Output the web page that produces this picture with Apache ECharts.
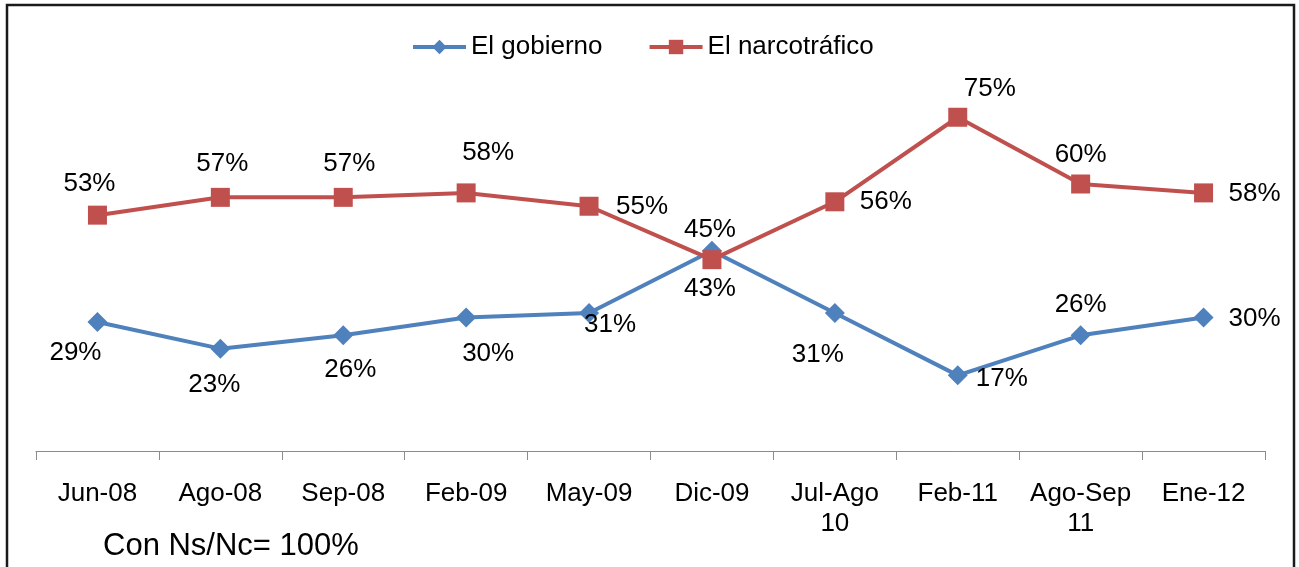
<!DOCTYPE html>
<html>
<head>
<meta charset="utf-8">
<script src="https://cdn.jsdelivr.net/npm/echarts@6/dist/echarts.min.js"></script>
<style>
    html, body { margin: 0; padding: 0; background: #fff; }
    #chart { width: 1299px; height: 567px; }
</style>
</head>
<body>
<div id="chart"></div>
<script>
const categories = ['Jun-08', 'Ago-08', 'Sep-08', 'Feb-09', 'May-09', 'Dic-09', 'Jul-Ago\n10', 'Feb-11', 'Ago-Sep\n11', 'Ene-12'];
const gobierno = [29, 23, 26, 30, 31, 45, 31, 17, 26, 30];
const narcotrafico = [53, 57, 57, 58, 55, 43, 56, 75, 60, 58];

// where each value label sits relative to its point (px)
const gobiernoLabelOffset = [[-22, 31], [-6, 36], [7, 35], [22, 36], [21, 12], [-2, -21], [-17, 42], [44, 3], [0, -30], [51, 1]];
const narcoLabelOffset = [[-8, -31], [2, -34], [6, -34], [22, -40], [53, 1], [-2, 29], [51, 0], [32, -28], [0, -29], [51, 1]];

const FONT = '"Liberation Sans", Arial, sans-serif';

function withLabels(values, offsets) {
    return values.map((v, i) => ({
        value: v,
        label: { offset: offsets[i] }
    }));
}

function makeSeries(name, values, offsets, color, symbol, size) {
    return {
        name: name,
        type: 'line',
        data: withLabels(values, offsets),
        symbol: symbol,
        symbolSize: size,
        lineStyle: { color: color, width: 4 },
        itemStyle: { color: color },
        label: {
            show: true,
            position: 'inside',
            formatter: '{c}%',
            color: '#000',
            fontFamily: FONT,
            fontSize: 26,
            textBorderWidth: 0
        },
        emphasis: { disabled: true },
        animation: false
    };
}

const chart = echarts.init(document.getElementById('chart'));
chart.setOption({
    animation: false,
    legend: {
        left: 406,
        top: 29,
        itemWidth: 53,
        itemHeight: 18,
        itemGap: 45,
        lineStyle: { width: 4 },
        textStyle: { fontFamily: FONT, fontSize: 26, color: '#000' },
        data: ['El gobierno', 'El narcotráfico']
    },
    grid: { left: 36, right: 34, top: 6, bottom: 116 },
    xAxis: {
        type: 'category',
        data: categories,
        axisLine: { lineStyle: { color: '#8c8c8c', width: 1 } },
        axisTick: { show: true, length: 9, lineStyle: { color: '#8c8c8c' } },
        axisLabel: { color: '#000', fontFamily: FONT, fontSize: 26, margin: 28, lineHeight: 30, interval: 0 }
    },
    yAxis: {
        type: 'value',
        min: 0,
        max: 100,
        show: false,
        splitLine: { show: false }
    },
    graphic: [
        {
            type: 'rect',
            shape: { x: 7, y: 5, width: 1287, height: 620 },
            style: { fill: 'none', stroke: '#1a1a1a', lineWidth: 2.5 },
            silent: true
        },
        {
            type: 'text',
            left: 103,
            top: 531,
            style: { text: 'Con Ns/Nc= 100%', fontFamily: FONT, fontSize: 31, fill: '#000' }
        }
    ],
    series: [
        makeSeries('El gobierno', gobierno, gobiernoLabelOffset, '#4F81BD', 'diamond', 20),
        makeSeries('El narcotráfico', narcotrafico, narcoLabelOffset, '#C0504D', 'rect', 19)
    ]
});
</script>
</body>
</html>
